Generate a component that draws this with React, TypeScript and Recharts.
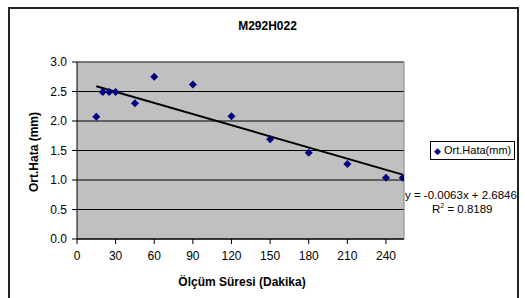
import {
  ScatterChart,
  Scatter,
  XAxis,
  YAxis,
  CartesianGrid,
  ReferenceLine,
} from "recharts";

// Ölçüm süresi (dakika) ve ortalama hata (mm)
const sureler = [15, 20, 25, 30, 45, 60, 90, 120, 150, 180, 210, 240, 253];
const hatalar = [2.07, 2.49, 2.49, 2.49, 2.3, 2.75, 2.62, 2.08, 1.69, 1.46, 1.27, 1.04, 1.04];
const xTicks = [0, 30, 60, 90, 120, 150, 180, 210, 240];
const yTicks = [0, 0.5, 1, 1.5, 2, 2.5, 3];
// Doğrusal eğilim çizgisi (Excel)
const egim = -0.0063;
const kesisim = 2.6846;
const r2 = 0.8189;

const FONT = "'Liberation Sans', Arial, sans-serif";

const points = sureler.map((x, i) => ({ x, y: hatalar[i] }));
const trendX = [sureler[0], sureler[sureler.length - 1]];
const trend = trendX.map((x) => ({ x, y: egim * x + kesisim }));

const Diamond = (props: any) => {
  const { cx, cy } = props;
  const r = 4;
  return (
    <polygon
      points={`${cx},${cy - r} ${cx + r},${cy} ${cx},${cy + r} ${cx - r},${cy}`}
      fill="#000080"
    />
  );
};

const text = (extra: React.CSSProperties): React.CSSProperties => ({
  position: "absolute",
  fontFamily: FONT,
  fontSize: 12,
  color: "#000",
  whiteSpace: "nowrap",
  lineHeight: "14px",
  ...extra,
});

export default function App() {
  return (
    <div
      style={{
        position: "absolute",
        left: 8,
        top: 7,
        width: 507,
        height: 300,
        border: "2px solid #222",
        background: "#fff",
      }}
    >
      <ScatterChart
        width={507}
        height={290}
        margin={{ top: 53, right: 113, bottom: 30, left: 27 }}
      >
        <CartesianGrid
          vertical={false}
          stroke="#000"
          fill="#C0C0C0"
          fillOpacity={1}
        />
        <XAxis
          type="number"
          dataKey="x"
          domain={[0, 254]}
          ticks={xTicks}
          allowDataOverflow
          stroke="#000"
          tickSize={5}
          tickMargin={7}
          tick={{ fill: "#000", fontSize: 12, fontFamily: FONT }}
        />
        <YAxis
          type="number"
          dataKey="y"
          width={40}
          domain={[0, 3]}
          ticks={yTicks}
          tickFormatter={(v) => v.toFixed(1)}
          stroke="#000"
          tickSize={5}
          tickMargin={5}
          tick={{ fill: "#000", fontSize: 12, fontFamily: FONT }}
        />
        <ReferenceLine y={3} stroke="#808080" />
        <ReferenceLine x={254} stroke="#808080" />
        <Scatter
          data={trend}
          line={{ stroke: "#000", strokeWidth: 2 }}
          shape={() => <g />}
          isAnimationActive={false}
        />
        <Scatter
          data={points}
          shape={<Diamond />}
          isAnimationActive={false}
        />
      </ScatterChart>
      <div style={text({ left: 0, width: 507, top: 10, textAlign: "center", fontWeight: "bold", paddingLeft: 4 })}>
        M292H022
      </div>
      <div
        style={text({
          left: 24,
          top: 143,
          fontWeight: "bold",
          transform: "translate(-50%, -50%) rotate(-90deg)",
        })}
      >
        Ort.Hata (mm)
      </div>
      <div style={text({ left: 0, width: 464, top: 266, textAlign: "center", fontWeight: "bold" })}>
        Ölçüm Süresi (Dakika)
      </div>
      <div
        style={text({
          left: 420,
          top: 132,
          width: 80,
          height: 17,
          border: "1px solid #000",
          fontSize: 11,
          lineHeight: "17px",
          paddingLeft: 3,
        })}
      >
        <span style={{ color: "#000080", fontSize: 9, marginRight: 3 }}>◆</span>
        Ort.Hata(mm)
      </div>
      <div style={text({ left: 395, top: 179, fontSize: 11.5 })}>
        y = {egim}x + {kesisim}
      </div>
      <div style={text({ left: 422, top: 193, fontSize: 11.5 })}>
        R<sup style={{ fontSize: 7, lineHeight: 0 }}>2</sup> = {r2}
      </div>
    </div>
  );
}
